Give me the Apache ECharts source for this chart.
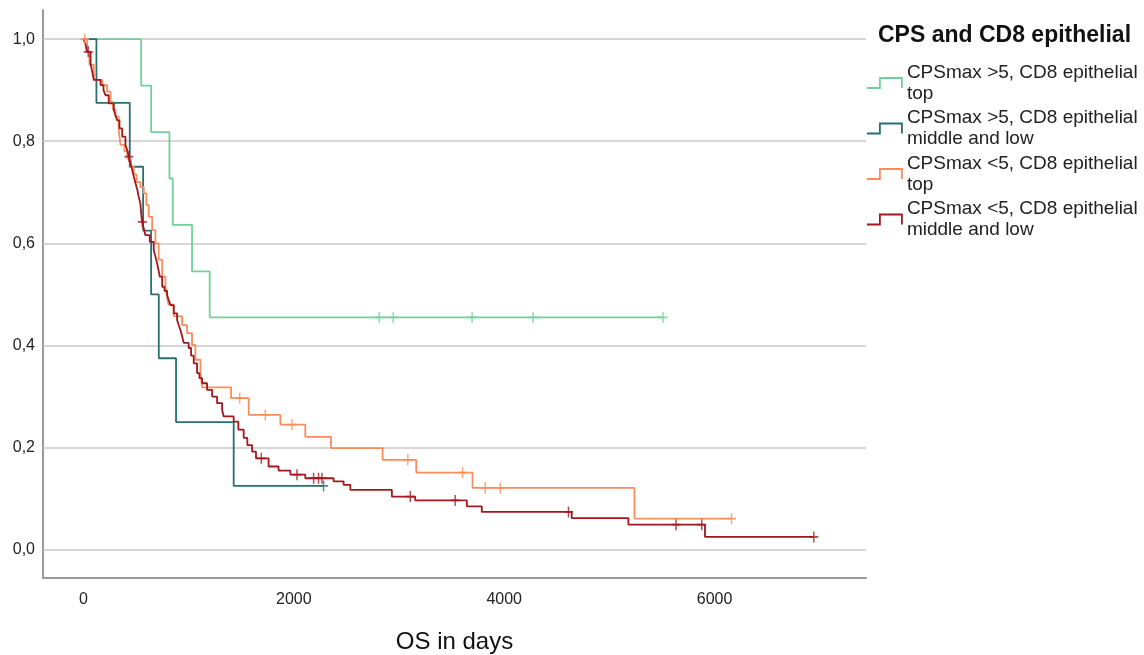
<!DOCTYPE html>
<html><head><meta charset="utf-8">
<script src="https://cdn.jsdelivr.net/npm/echarts@6/dist/echarts.min.js"></script>
<style>html,body{margin:0;padding:0;background:#fff}#c{width:1144px;height:655px}</style>
</head><body><div id="c"></div>
<script>
const legendTitle = 'CPS and CD8 epithelial';
const groupNames = [
  'CPSmax >5, CD8 epithelial\ntop',
  'CPSmax >5, CD8 epithelial\nmiddle and low',
  'CPSmax <5, CD8 epithelial\ntop',
  'CPSmax <5, CD8 epithelial\nmiddle and low'
];
const xTickValues = [0, 2000, 4000, 6000];
const yTickValues = [0, 0.2, 0.4, 0.6, 0.8, 1.0];
const xAxisName = 'OS in days';

// Group 1: CPSmax >5, CD8 epithelial top
const g1Times = [0, 548, 643, 817, 849, 1032, 1200, 5510];
const g1Surv  = [1, 0.909, 0.818, 0.727, 0.636, 0.545, 0.455, 0.455];
const g1CensorTimes = [2812, 2945, 3695, 4275, 5510];
const g1CensorSurv  = [0.455, 0.455, 0.455, 0.455, 0.455];

// Group 2: CPSmax >5, CD8 epithelial middle and low
const g2Times = [0, 123, 440, 567, 643, 716, 880, 1428, 2283];
const g2Surv  = [1, 0.875, 0.75, 0.625, 0.5, 0.375, 0.25, 0.125, 0.125];
const g2CensorTimes = [2283];
const g2CensorSurv  = [0.125];

// Group 3: CPSmax <5, CD8 epithelial top
const g3Times = [0, 35, 57, 98, 178, 225, 257, 280, 304, 335, 352, 390, 418, 451, 478, 504, 541, 573, 598, 620, 653, 684, 715, 748, 779, 790, 808, 858, 938, 985, 1032, 1064, 1112, 1128, 1403, 1571, 1872, 2109, 2353, 2844, 3164, 3699, 5238, 6162];
const g3Surv  = [1, 0.975, 0.95, 0.92, 0.91, 0.897, 0.877, 0.862, 0.848, 0.822, 0.793, 0.78, 0.766, 0.75, 0.735, 0.72, 0.71, 0.698, 0.675, 0.652, 0.626, 0.60, 0.568, 0.535, 0.515, 0.50, 0.48, 0.457, 0.44, 0.424, 0.401, 0.372, 0.346, 0.318, 0.297, 0.264, 0.245, 0.221, 0.199, 0.176, 0.151, 0.121, 0.061, 0.061];
const g3CensorTimes = [12, 1485, 1729, 1982, 3084, 3604, 3819, 3962, 6162];
const g3CensorSurv  = [1.0, 0.297, 0.264, 0.245, 0.176, 0.151, 0.121, 0.121, 0.061];

// Group 4: CPSmax <5, CD8 epithelial middle and low
const g4Times = [0, 19, 33, 67, 83, 98, 162, 190, 209, 240, 288, 304, 320, 342, 368, 399, 418, 430, 447, 463, 478, 494, 513, 525, 541, 550, 557, 573, 589, 630, 668, 684, 700, 713, 725, 748, 770, 795, 810, 827, 858, 890, 905, 922, 938, 953, 1000, 1023, 1048, 1080, 1102, 1128, 1175, 1223, 1270, 1318, 1333, 1428, 1472, 1523, 1558, 1603, 1640, 1760, 1855, 1967, 2109, 2378, 2473, 2537, 2932, 3154, 3645, 3787, 4642, 5181, 5909, 6944];
const g4Surv  = [1, 0.99, 0.975, 0.952, 0.936, 0.92, 0.91, 0.90, 0.89, 0.874, 0.861, 0.851, 0.841, 0.825, 0.809, 0.793, 0.781, 0.77, 0.757, 0.744, 0.731, 0.718, 0.704, 0.691, 0.678, 0.655, 0.642, 0.629, 0.616, 0.603, 0.587, 0.574, 0.561, 0.548, 0.535, 0.515, 0.507, 0.499, 0.489, 0.479, 0.463, 0.45, 0.44, 0.43, 0.418, 0.405, 0.395, 0.38, 0.365, 0.346, 0.336, 0.326, 0.313, 0.300, 0.287, 0.274, 0.261, 0.251, 0.235, 0.219, 0.205, 0.192, 0.179, 0.163, 0.155, 0.147, 0.140, 0.134, 0.127, 0.117, 0.104, 0.0965, 0.085, 0.074, 0.062, 0.049, 0.025, 0.025];
const g4CensorTimes = [45, 432, 560, 1691, 2030, 2188, 2235, 2267, 3107, 3534, 4611, 5634, 5878, 6944];
const g4CensorSurv  = [0.975, 0.77, 0.642, 0.179, 0.147, 0.140, 0.140, 0.140, 0.104, 0.0965, 0.074, 0.049, 0.049, 0.025];

const colors = ['#72d19a', '#2a6f70', '#f98d5c', '#a3181e'];

const zip = (t, s) => t.map((x, i) => [x, s[i]]);
const lines = [zip(g1Times, g1Surv), zip(g2Times, g2Surv), zip(g3Times, g3Surv), zip(g4Times, g4Surv)];
const censors = [zip(g1CensorTimes, g1CensorSurv), zip(g2CensorTimes, g2CensorSurv), zip(g3CensorTimes, g3CensorSurv), zip(g4CensorTimes, g4CensorSurv)];

const stepIcon = 'path://M0,10 L13,10 L13,0 L35,0 L35,10';
const plusSymbol = 'path://M5,0 L5,10 M0,5 L10,5';
const sans = "'Liberation Sans', Arial, sans-serif";

const series = [];
lines.forEach((d, i) => {
  const s = {
    name: groupNames[i], type: 'line', step: 'end', data: d, symbol: 'none',
    lineStyle: { color: colors[i], width: 1.8 }, itemStyle: { color: colors[i] },
    z: 2 + i, silent: true
  };
  if (i === 0) {
    s.markLine = {
      silent: true, z: 1, symbol: ['none', 'none'], label: { show: false },
      lineStyle: { color: '#c8c8c8', width: 1.5, type: 'solid' },
      emphasis: { disabled: true },
      data: yTickValues.map(v => ({ yAxis: v }))
    };
  }
  series.push(s);
});
censors.forEach((d, i) => {
  series.push({
    name: 'censored ' + i, type: 'scatter', data: d, symbol: plusSymbol, symbolSize: [9, 11],
    itemStyle: { color: 'rgba(0,0,0,0)', borderColor: colors[i], borderWidth: 1.6 },
    z: 10, silent: true
  });
});

const chart = echarts.init(document.getElementById('c'));
chart.setOption({
  animation: false,
  backgroundColor: '#ffffff',
  title: { text: legendTitle, left: 873, top: 19, textStyle: { fontFamily: sans, fontSize: 23, fontWeight: 'bold', color: '#111' } },
  legend: {
    orient: 'vertical', left: 866, top: 62, padding: 0, itemWidth: 35, itemHeight: 11, itemGap: 3.5,
    selectedMode: false,
    textStyle: { fontFamily: sans, fontSize: 19, lineHeight: 21, color: '#222' },
    data: groupNames.map((n, i) => ({ name: n, icon: stepIcon,
      itemStyle: { color: 'rgba(0,0,0,0)', borderColor: colors[i], borderWidth: 1.8 } }))
  },
  grid: { left: 43, top: 10, width: 823, height: 568, containLabel: false, outerBoundsMode: 'none' },
  xAxis: {
    type: 'value', min: -385, max: 7440,
    name: xAxisName, nameLocation: 'middle', nameGap: 52,
    nameTextStyle: { fontFamily: sans, fontSize: 24, color: '#111' },
    axisLine: { onZero: false, lineStyle: { color: '#9a9a9a', width: 2 } },
    axisTick: { show: false }, splitLine: { show: false },
    axisLabel: { customValues: xTickValues, margin: 14, fontFamily: sans, fontSize: 16, color: '#222',
      formatter: v => String(v) }
  },
  yAxis: {
    type: 'value', min: -0.0554, max: 1.057,
    axisLine: { show: true, onZero: false, lineStyle: { color: '#9a9a9a', width: 2 } },
    axisTick: { show: false }, splitLine: { show: false },
    axisLabel: { customValues: yTickValues, margin: 8, fontFamily: sans, fontSize: 16, color: '#222',
      formatter: v => v.toFixed(1).replace('.', ',') }
  },
  series: series
});
</script></body></html>
